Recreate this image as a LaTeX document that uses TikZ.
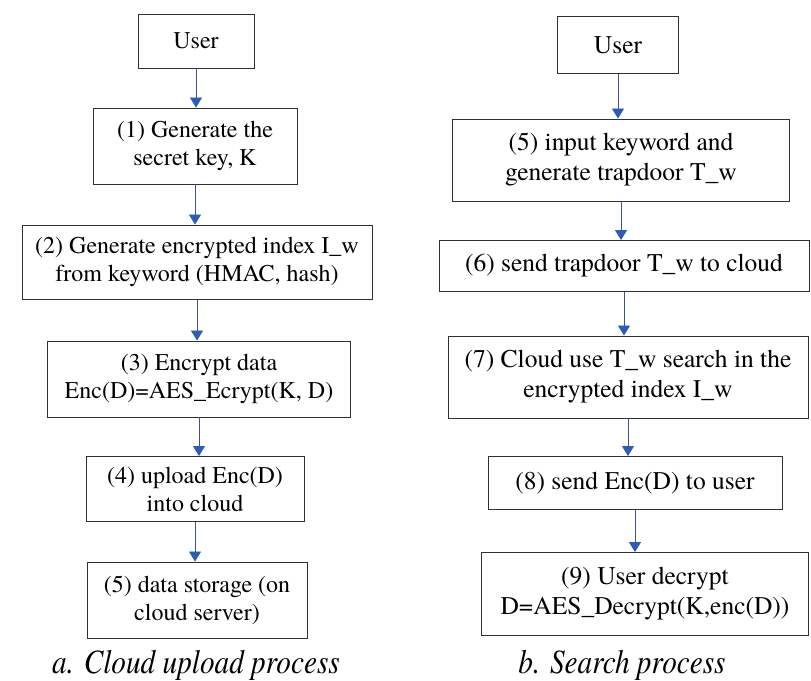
\documentclass[tikz,border=0pt]{standalone}
\usepackage{fontspec}
\setmainfont{texgyretermes}[Extension=.otf,UprightFont=*-regular,ItalicFont=*-italic,BoldFont=*-bold,BoldItalicFont=*-bolditalic]
\newfontfamily\capfont{texgyretermes}[Extension=.otf,UprightFont=*-regular,ItalicFont=*-italic,FakeStretch=0.86]
\usetikzlibrary{arrows.meta}

\definecolor{linkline}{HTML}{3F5283}
\definecolor{linkhead}{HTML}{2C5CB5}
\definecolor{boxline}{HTML}{303030}

\begin{document}
\begin{tikzpicture}[x=1pt,y=-1pt,
  box/.style={draw=boxline, line width=0.9pt, align=center, inner sep=0pt},
  lbox/.style={box, font=\fontsize{24}{28}\selectfont},
  rbox/.style={box, font=\fontsize{25.5}{30}\selectfont},
  flow/.style={draw=linkline, line width=0.8pt, -{Triangle[length=10pt,width=12pt,color=linkhead]}},
  caption/.style={anchor=base, font=\capfont\itshape\fontsize{34}{40}\selectfont}]
  \useasboundingbox (0,0) rectangle (811,680);

  % upload side
  \node[lbox, minimum width=116, minimum height=54] (userA) at (196,41) {User};
  \node[lbox, minimum width=204, minimum height=76] (up1) at (195,146) {(1) Generate the\\secret key, K};
  \node[lbox, minimum width=350, minimum height=74] (up2) at (197,262) {(2) Generate encrypted index I\_w\\from keyword (HMAC, hash)};
  \node[lbox, minimum width=303, minimum height=76] (up3) at (199,379) {(3) Encrypt data\\Enc(D)=AES\_Ecrypt(K, D)};
  \node[lbox, minimum width=218, minimum height=65] (up4) at (195,489) {(4) upload Enc(D)\\into cloud};
  \node[lbox, minimum width=220, minimum height=76] (up5) at (197,600) {(5) data storage (on\\cloud server)};
  \node[caption] (capA) at (196,673) {a. Cloud upload process};

  \draw[flow] (userA.south) -- (userA.south |- up1.north);
  \draw[flow] (up1.south) -- (up1.south |- up2.north);
  \draw[flow] (up2.south) -- (up2.south |- up3.north);
  \draw[flow] (up3.south) -- (up3.south |- up4.north);
  \draw[flow] (up4.south) -- (up4.south |- up5.north);

  % search side
  \node[rbox, minimum width=121, minimum height=57] (userB) at (618,45) {User};
  \node[rbox, minimum width=337, minimum height=82] (sr5) at (621,160) {(5) input keyword and\\generate trapdoor T\_w};
  \node[rbox, minimum width=370, minimum height=51] (sr6) at (624,266) {(6) send trapdoor T\_w to cloud};
  \node[rbox, minimum width=360, minimum height=82] (sr7) at (628,377) {(7) Cloud use T\_w search in the\\encrypted index I\_w};
  \node[rbox, minimum width=294, minimum height=53] (sr8) at (635,483) {(8) send Enc(D) to user};
  \node[rbox, minimum width=327, minimum height=83] (sr9) at (645,594) {(9) User decrypt\\D=AES\_Decrypt(K,enc(D))};
  \node[caption] (capB) at (622,673) {b. Search process};

  \draw[flow] (userB.south) -- (userB.south |- sr5.north);
  \draw[flow] (sr5.south) -- (sr5.south |- sr6.north);
  \draw[flow] (sr6.south) -- (sr6.south |- sr7.north);
  \draw[flow] (sr7.south) -- (sr7.south |- sr8.north);
  \draw[flow] (sr8.south) -- (sr8.south |- sr9.north);
\end{tikzpicture}
\end{document}
